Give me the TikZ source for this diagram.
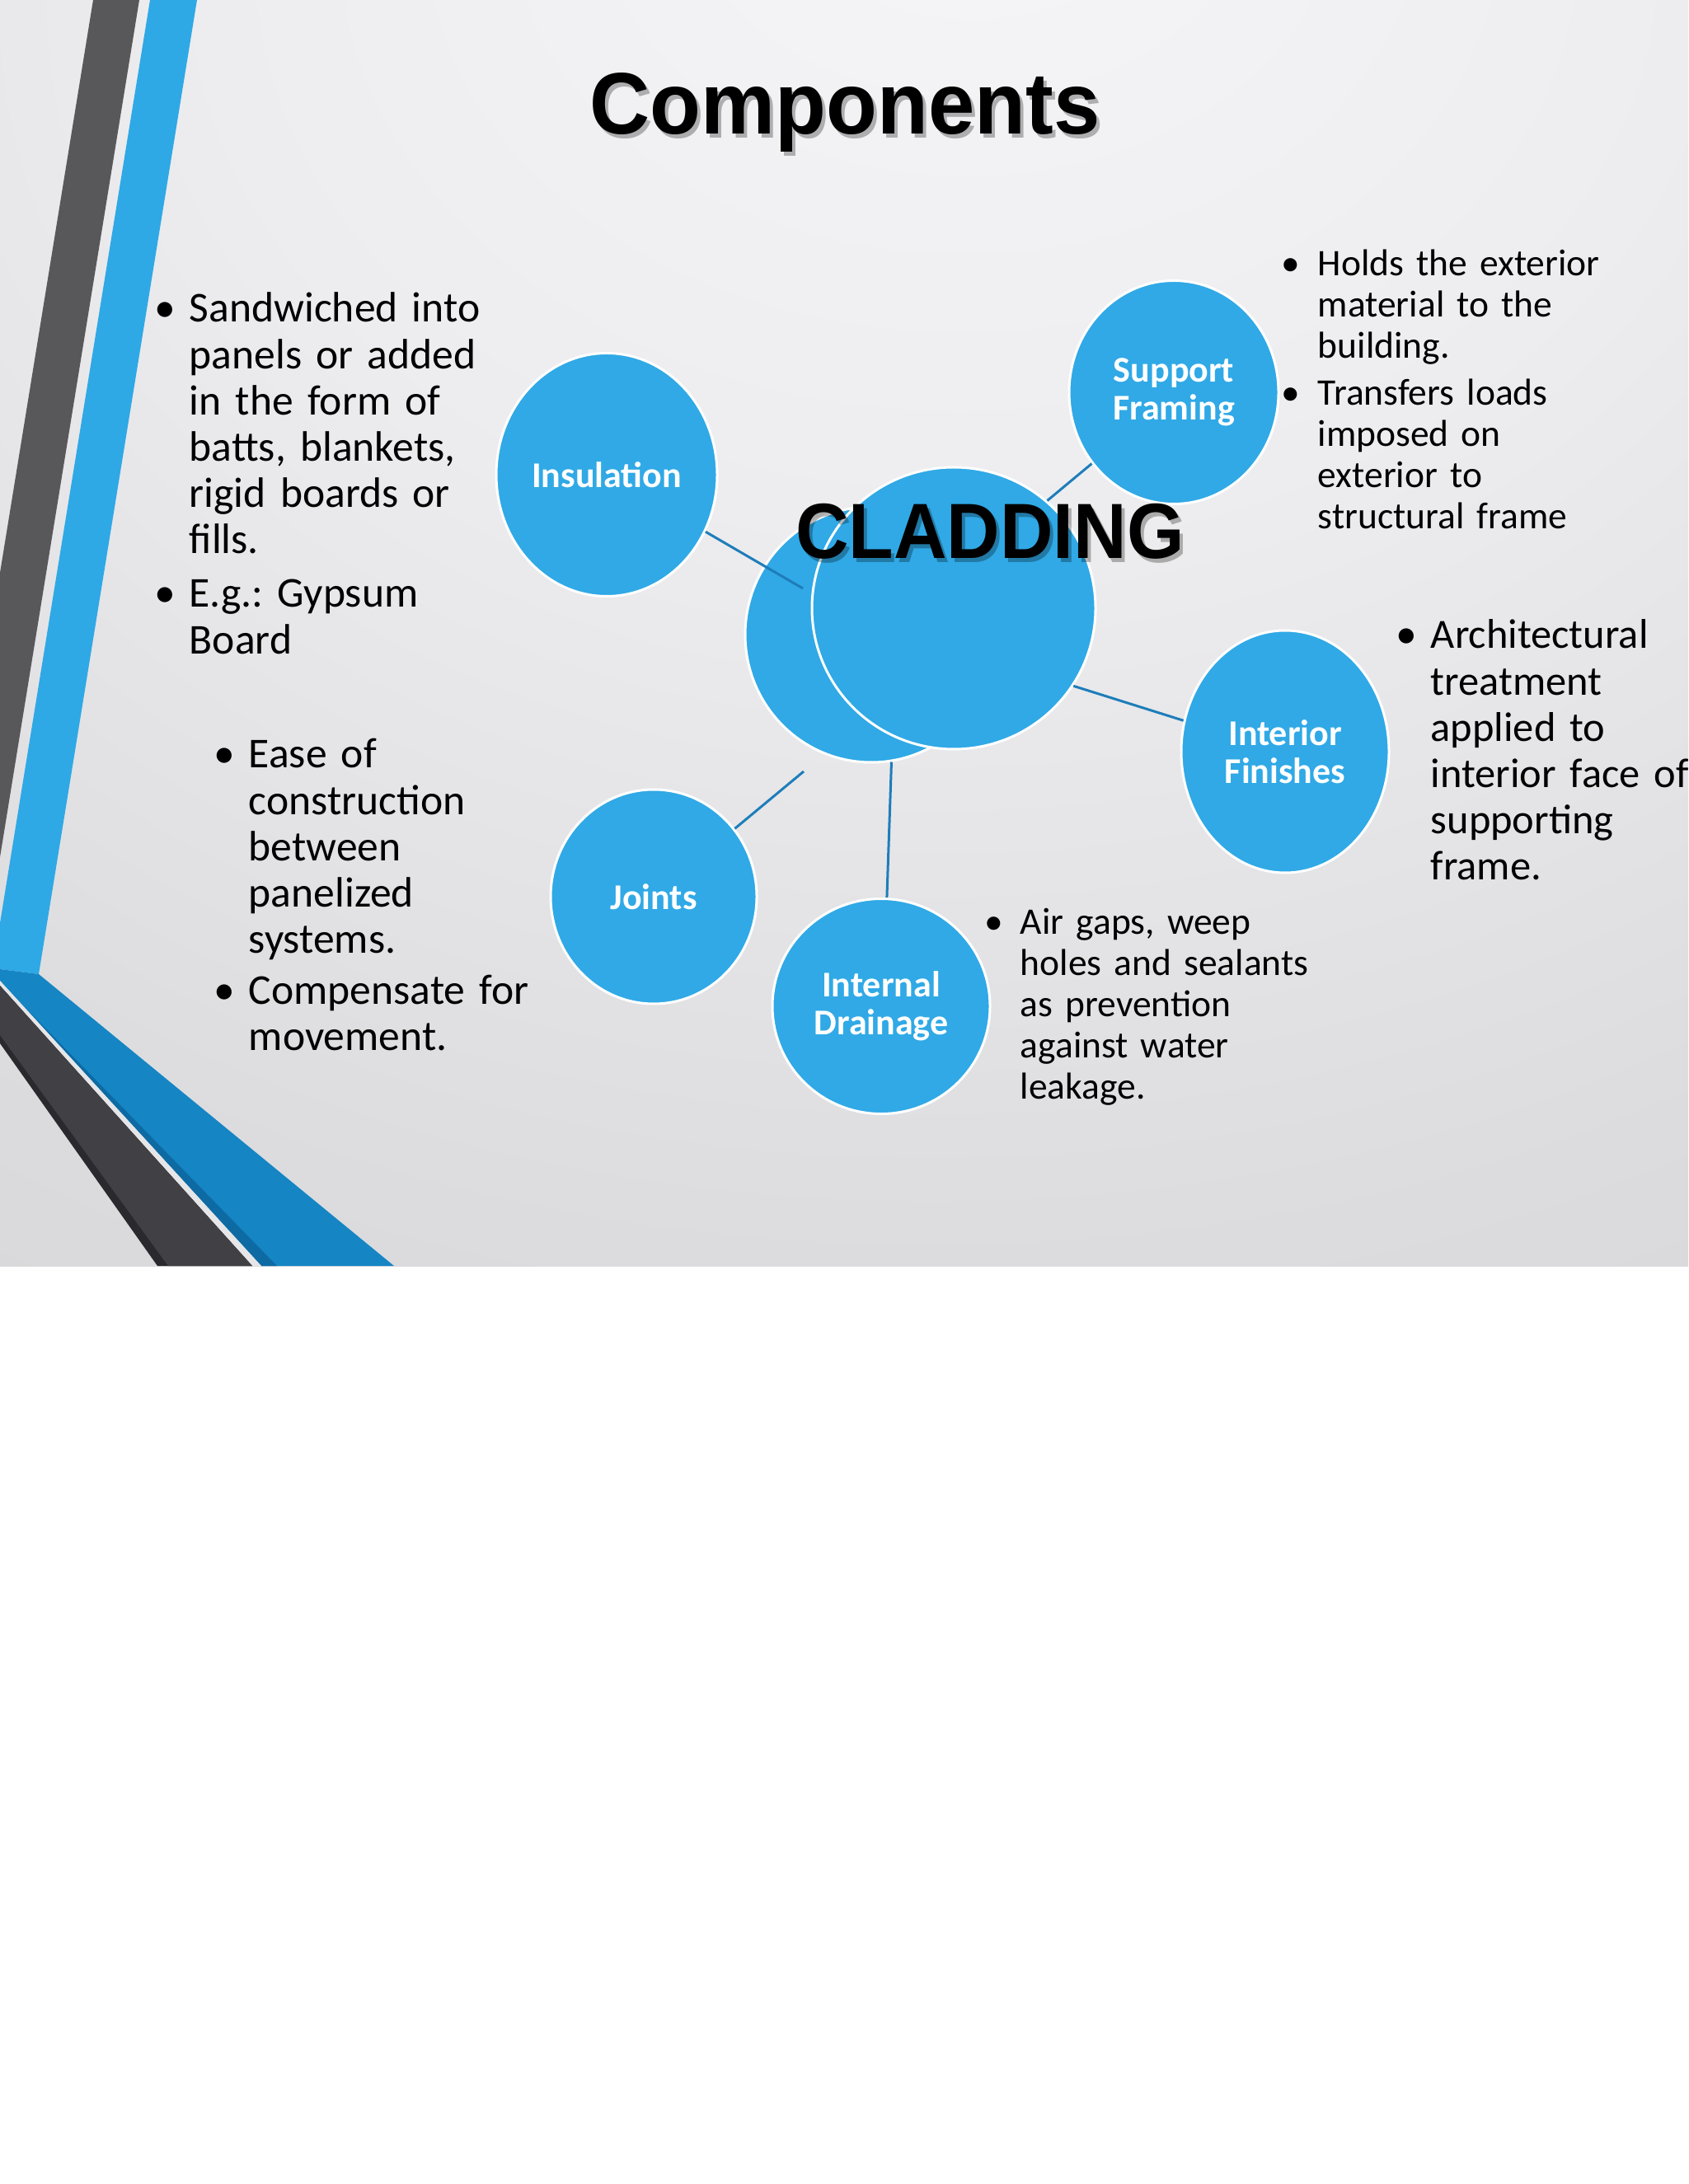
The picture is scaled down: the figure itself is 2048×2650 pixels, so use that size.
\documentclass[tikz,border=0pt]{standalone}
\usepackage{fontspec}
\setmainfont{Carlito}
\newfontfamily\titlefont[FakeStretch=0.955]{Liberation Sans}
\newfontfamily\cladfont[FakeStretch=0.94]{Liberation Sans}
\usetikzlibrary{shapes.geometric}
\definecolor{bubc}{HTML}{30A9E6}
\definecolor{connc}{HTML}{1E7DBA}
\definecolor{stripegray}{HTML}{58585A}
\definecolor{stripeblue}{HTML}{2FA8E6}
\definecolor{banddark}{HTML}{1585C4}
\definecolor{bandshade}{HTML}{0E6AA3}
\definecolor{graydark}{HTML}{414044}
\definecolor{grayedge}{HTML}{2A292D}
\definecolor{gapline}{HTML}{E6E6E8}
\definecolor{bga}{HTML}{F6F6F8}
\definecolor{bgb}{HTML}{EDEDEF}
\definecolor{bgc}{HTML}{DCDCDE}
\definecolor{bgd}{HTML}{D3D3D5}
\definecolor{bge}{HTML}{D0D0D2}
\pgfdeclareradialshading{bgshade}{\pgfpoint{4bp}{32bp}}{color(0bp)=(bga); color(22bp)=(bgb); color(45bp)=(bgc); color(66bp)=(bgd); color(120bp)=(bge)}
\frenchspacing
\begin{document}
\begin{tikzpicture}[x=0.25pt,y=-0.25pt,
  bub/.style={ellipse, fill=bubc, draw=white, line width=0.75pt, inner sep=0pt,
    text=white, font=\fontsize{11pt}{11.5pt}\selectfont\bfseries, align=center},
  conn/.style={draw=connc, line width=0.75pt},
  bigtxt/.style={anchor=base west, inner sep=0pt, align=left, text width=160pt,
    font=\frenchspacing\fontsize{12.9pt}{14.05pt}\selectfont},
  smalltxt/.style={anchor=base west, inner sep=0pt, align=left, text width=160pt,
    font=\frenchspacing\fontsize{11.375pt}{12.5pt}\selectfont},
  bigdot/.style={anchor=base, inner sep=0pt, font=\fontsize{12.9pt}{14.05pt}\selectfont},
  smalldot/.style={anchor=base, inner sep=0pt, font=\fontsize{11.375pt}{12.5pt}\selectfont},
  headtxt/.style={anchor=base, inner sep=0pt},
  shadowtxt/.style={anchor=base, inner sep=0pt, text=black, opacity=0.28}
]
\useasboundingbox (0,0) rectangle (2048,2650);
\fill[white] (0,0) rectangle (2048,2650);
\shade[shading=bgshade] (0,0) rectangle (2048,1536);

% decorative stripes
\fill[stripegray] (113,0) -- (169,0) -- (0,1040) -- (0,695) -- cycle;
\fill[stripeblue] (182,0) -- (239,0) -- (47,1182) -- (0,1176) -- (0,1120) -- cycle;
\fill[banddark] (0,1176) -- (47,1182) -- (478,1536) -- (317,1536) -- (0,1190) -- cycle;
\fill[bandshade] (30,1222) -- (336,1536) -- (317,1536) -- cycle;
\fill[gapline] (0,1190) -- (317,1536) -- (306,1536) -- (0,1196) -- cycle;
\fill[grayedge] (0,1196) -- (306,1536) -- (191,1536) -- (0,1266) -- cycle;
\fill[graydark] (0,1196) -- (306,1536) -- (204,1536) -- (0,1256) -- cycle;

% bubbles
\node[bub, minimum width=76.5pt, minimum height=77.5pt] (back) at (1057,770) {};
\node[bub, minimum width=86pt, minimum height=85.5pt] (front) at (1157,738) {};
\node[bub, minimum width=67pt, minimum height=73.75pt] (ins) at (736,576) {Insulation};
\node[bub, minimum width=63.5pt, minimum height=67.75pt] (sup) at (1424,476) {Support\\Framing};
\node[bub, minimum width=63pt, minimum height=73.5pt] (int) at (1559,912) {Interior\\Finishes};
\node[bub, minimum width=62.5pt, minimum height=65pt] (joi) at (793,1088) {Joints};
\node[bub, minimum width=66pt, minimum height=65.25pt] (drn) at (1069,1221) {Internal\\Drainage};

% connectors
\coordinate (iend) at (974,714);
\coordinate (jend) at (975,936);
\draw[conn] (ins.-30) -- (iend);
\draw[conn] (sup.221.5) -- (front.49);
\draw[conn] (int.163) -- (front.-33.4);
\draw[conn] (joi.40) -- (jend);
\draw[conn] (drn.87.4) -- (back.-81.4);

% headings
\node[shadowtxt, font={\titlefont\bfseries\fontsize{26.5pt}{30pt}\selectfont}] (titlesh) at (1029,168) {Components};
\node[headtxt, font={\titlefont\bfseries\fontsize{26.5pt}{30pt}\selectfont}] (title) at (1025,163) {Components};
\node[shadowtxt, font={\cladfont\bfseries\fontsize{23.75pt}{26pt}\selectfont}] (cladsh) at (1205,683) {CLADDING};
\node[headtxt, font={\cladfont\bfseries\fontsize{23.75pt}{26pt}\selectfont}] (clad) at (1201,678) {CLADDING};

% descriptions
\node[bigdot] (b1) at (200,391) {•};
\node[bigtxt] (t1) at (229,391) {Sandwiched into\\panels or added\\in the form of\\batts, blankets,\\rigid boards or\\fills.};
\node[bigdot] (b2) at (200,737) {•};
\node[bigtxt] (t2) at (229,737) {E.g.: Gypsum\\Board};

\node[bigdot] (b3) at (272,932) {•};
\node[bigtxt] (t3) at (301,932) {Ease of\\construction\\between\\panelized\\systems.};
\node[bigdot] (b4) at (272,1218) {•};
\node[bigtxt] (t4) at (301,1218) {Compensate for\\movement.};

\node[bigdot] (b5) at (1706,787) {•};
\node[bigtxt, font=\frenchspacing\fontsize{12.6pt}{14.05pt}\selectfont] (t5) at (1735,787) {Architectural\\treatment\\applied to\\interior face of\\supporting\\frame.};

\node[smalldot] (b6) at (1566,335) {•};
\node[smalltxt] (t6) at (1598,335) {Holds the exterior\\material to the\\building.};
\node[smalldot] (b7) at (1566,492) {•};
\node[smalltxt] (t7) at (1598,492) {Transfers loads\\imposed on\\exterior to\\structural frame};

\node[smalldot] (b8) at (1206,1133) {•};
\node[smalltxt] (t8) at (1237,1133) {Air gaps, weep\\holes and sealants\\as prevention\\against water\\leakage.};
\end{tikzpicture}
\end{document}
